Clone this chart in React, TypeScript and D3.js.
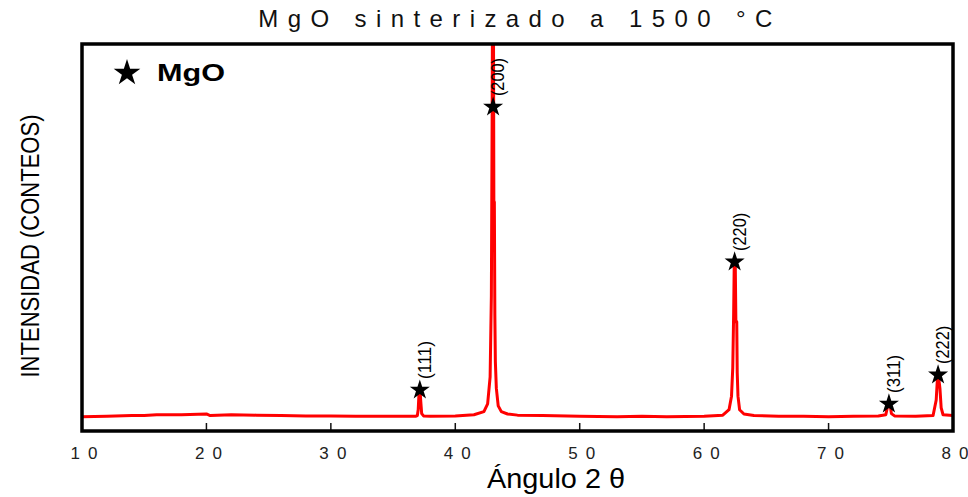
import React from "react";
import * as d3 from "d3";

const angles = [10, 12, 14, 15, 16, 18, 20, 20.3, 22, 24, 26, 28, 30, 32, 34, 36, 36.8, 36.95, 37.02, 37.08, 37.13, 37.18, 37.23, 37.3, 37.45, 38, 40, 41.5, 42.3, 42.6, 42.8, 42.9, 42.96, 43.0, 43.06, 43.1, 43.14, 43.18, 43.22, 43.3, 43.45, 43.7, 44.2, 45, 47, 50, 53, 55, 57, 60, 61.5, 62.0, 62.2, 62.3, 62.37, 62.42, 62.5, 62.55, 62.62, 62.66, 62.72, 62.85, 63.2, 64, 66, 68, 70, 72, 74, 74.6, 74.75, 74.85, 74.95, 75.05, 75.3, 77, 78.4, 78.65, 78.75, 78.85, 78.95, 79.05, 79.2, 80];
const counts = [37, 38, 40, 40, 42, 42, 44, 40, 42, 41, 40, 39, 39, 38, 38, 38, 38, 40, 55, 95, 101, 100, 75, 45, 39, 38, 39, 42, 50, 70, 140, 350, 800, 1200, 1200, 592, 592, 300, 180, 110, 65, 50, 44, 41, 40, 38, 37, 38, 37, 38, 41, 55, 90, 163, 300, 437, 437, 282, 282, 150, 90, 55, 44, 40, 38, 38, 37, 38, 39, 42, 65, 70, 68, 45, 39, 38, 40, 80, 137, 137, 110, 60, 42, 40];

const peakLabels = ["(111)", "(200)", "(220)", "(311)", "(222)"];
const peakAngles = [37.15, 43.04, 62.45, 74.85, 78.8];
const peakStarCounts = [106, 837, 437, 70, 145];

const xTicks = [10, 20, 30, 40, 50, 60, 70, 80];
const innerTicks = [20, 30, 40, 50, 60, 70];

const title = "MgO sinterizado a 1500 °C";
const xTitle = "Ángulo 2 θ";
const yTitle = "INTENSIDAD (CONTEOS)";
const legendLabel = "MgO";

export default function App() {
  const W = 968, H = 497;
  const left = 82, right = 953, top = 44, bottom = 431;
  const x = d3.scaleLinear().domain([10, 80]).range([left, right]);
  const y = d3.scaleLinear().domain([0, 1000]).range([bottom, top]);
  const pts = angles.map((a, i) => [a, counts[i]] as [number, number]);
  const line = d3.line<[number, number]>().x(d => x(d[0])).y(d => y(d[1]));
  const star = d3.symbol().type(d3.symbolStar).size(125)();
  const bigStar = d3.symbol().type(d3.symbolStar).size(220)();
  const font = "Arial, 'Liberation Sans', sans-serif";

  return (
    <svg width={W} height={H} style={{ position: "absolute", left: 0, top: 0, background: "#fff" }} fontFamily={font}>
      <rect x={0} y={0} width={W} height={H} fill="#fff" />
      <defs>
        <clipPath id="plotclip">
          <rect x={left} y={top} width={right - left} height={bottom - top} />
        </clipPath>
      </defs>
      <text x={520} y={27} textAnchor="middle" fontSize={24} letterSpacing={9.4} fill="#111">{title}</text>
      <path d={line(pts) || ""} fill="none" stroke="#ff0000" strokeWidth={3} strokeLinejoin="round" clipPath="url(#plotclip)" />
      {innerTicks.map(t => (
        <line key={t} x1={x(t)} x2={x(t)} y1={bottom} y2={bottom - 8} stroke="#111" strokeWidth={1.5} />
      ))}
      <rect x={left} y={top} width={right - left} height={bottom - top} fill="none" stroke="#000" strokeWidth={3.5} />
      {xTicks.map(t => (
        <text key={t} x={x(t) + 2} y={459} textAnchor="middle" fontSize={17} textLength={27} lengthAdjust="spacing" fill="#222">{t}</text>
      ))}
      <text x={556} y={488} textAnchor="middle" fontSize={27} textLength={138} lengthAdjust="spacingAndGlyphs" fill="#000">{xTitle}</text>
      <text transform={`translate(39,246) rotate(-90)`} textAnchor="middle" fontSize={26} textLength={263} lengthAdjust="spacingAndGlyphs" fill="#000">{yTitle}</text>
      {peakAngles.map((a, i) => (
        <g key={i}>
          <path d={star} transform={`translate(${x(a)},${y(peakStarCounts[i])})`} fill="#000" />
          <text transform={`translate(${x(a) + 5},${y(peakStarCounts[i]) - 11}) rotate(-90)`} textAnchor="start" dominantBaseline="central" fontSize={18} textLength={38} lengthAdjust="spacingAndGlyphs" fill="#000">{peakLabels[i]}</text>
        </g>
      ))}
      <path d={bigStar} transform={`translate(127,73)`} fill="#000" />
      <text x={157} y={81} fontSize={23} fontWeight="bold" textLength={68} lengthAdjust="spacingAndGlyphs" fill="#000">{legendLabel}</text>
    </svg>
  );
}
